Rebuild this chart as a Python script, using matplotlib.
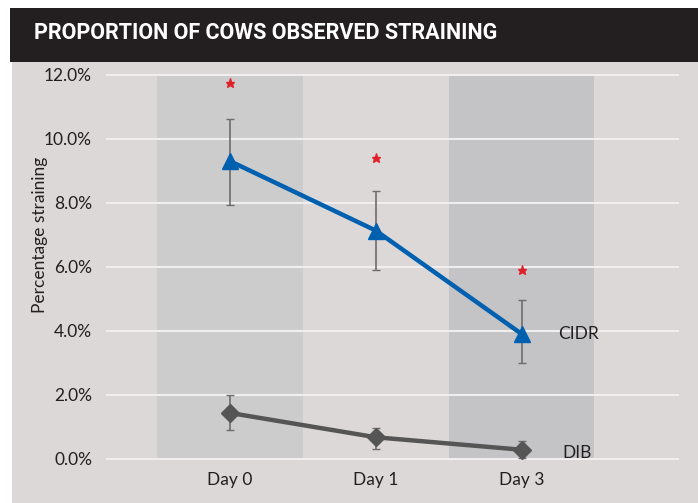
import matplotlib.pyplot as plt
import matplotlib.patches as patches
from matplotlib.ticker import FuncFormatter

days = ['Day 0', 'Day 1', 'Day 3']
cidr = [9.3, 7.13, 3.9]
cidr_lo = [7.94, 5.9, 2.98]
cidr_hi = [10.63, 8.38, 4.95]
dib = [1.43, 0.67, 0.28]
dib_lo = [0.9, 0.3, 0.02]
dib_hi = [1.98, 0.97, 0.56]
stars = [11.75, 9.4, 5.9]
yticks = [0, 2, 4, 6, 8, 10, 12]

BG = '#dbd8d7'
FONT = ['Lato', 'DejaVu Sans']
plt.rcParams['font.family'] = FONT
FS = 12.5

fig = plt.figure(figsize=(6.98, 5.03), dpi=100)
fig.patch.set_facecolor('white')

# body and title bar
fig.add_artist(patches.Rectangle((12 / 698, 0), 1, 1 - 62 / 503, transform=fig.transFigure,
                                 facecolor=BG, edgecolor='none', zorder=0))
fig.add_artist(patches.Rectangle((10 / 698, 1 - 62 / 503), 1, 54 / 503, transform=fig.transFigure,
                                 facecolor='#231f20', edgecolor='none', zorder=0))
fig.text(34 / 698, 1 - 33 / 503, 'PROPORTION OF COWS OBSERVED STRAINING', color='white',
         fontsize=15.5, fontweight='bold', family=['Roboto', 'DejaVu Sans'], va='center', ha='left')

ax = fig.add_axes([106 / 698, 1 - 461.9 / 503, (679 - 106) / 698, (461.9 - 71.5) / 503])
ax.set_facecolor('none')
ax.set_xlim(-0.85, 3.08)
ax.set_ylim(-0.1, 12.1)
for s in ax.spines.values():
    s.set_visible(False)

x = list(range(len(days)))

# shaded bands behind Day 0 and Day 3
ax.bar([x[0]], [12.05], width=1.0, bottom=-0.02, color='#cdcccd', zorder=1)
ax.bar([x[2]], [12.05], width=1.0, bottom=-0.02, color='#c4c4c6', zorder=1)

for t in yticks:
    ax.axhline(t, color='#f0eeee', lw=1.5, zorder=2)

ax.set_yticks(yticks)
ax.yaxis.set_major_formatter(FuncFormatter(lambda v, p: f'{v:.1f}%'))
ax.set_xticks(x)
ax.set_xticklabels(days)
ax.tick_params(length=0, labelsize=FS, colors='#231f20', pad=10)
ax.tick_params(axis='x', pad=7)
ax.set_ylabel('Percentage straining', fontsize=FS, color='#231f20', va='center')
ax.yaxis.set_label_coords(-0.115, 0.582)

cidr_err = [[c - l for c, l in zip(cidr, cidr_lo)], [h - c for c, h in zip(cidr, cidr_hi)]]
dib_err = [[c - l for c, l in zip(dib, dib_lo)], [h - c for c, h in zip(dib, dib_hi)]]
ax.errorbar(x, cidr, yerr=cidr_err, fmt='none', ecolor='#6d6d6d', elinewidth=1.2, capsize=3, zorder=3)
ax.errorbar(x, dib, yerr=dib_err, fmt='none', ecolor='#6d6d6d', elinewidth=1.2, capsize=3, zorder=3)

ax.plot(x, cidr, color='#0060b0', lw=3.2, marker='^', ms=12, zorder=4)
ax.plot(x, dib, color='#555555', lw=3.2, marker='D', ms=9, zorder=4)
ax.plot(x, stars, ls='none', marker='*', ms=6.5, color='#e0202a', zorder=4)

ax.text(2.25, cidr[2], 'CIDR', fontsize=FS, color='#231f20', va='center', ha='left')
ax.text(2.28, dib[2] - 0.1, 'DIB', fontsize=FS, color='#231f20', va='center', ha='left')

fig.savefig('out.png', dpi=100)
